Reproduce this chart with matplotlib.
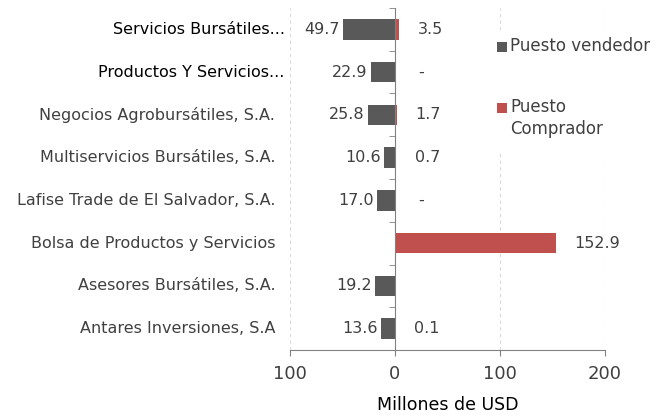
import matplotlib
matplotlib.use("Agg")
import matplotlib.pyplot as plt
import numpy as np
from matplotlib.ticker import FuncFormatter
from matplotlib.patches import Rectangle

categories = [
    "Servicios Bursátiles...",
    "Productos Y Servicios...",
    "Negocios Agrobursátiles, S.A.",
    "Multiservicios Bursátiles, S.A.",
    "Lafise Trade de El Salvador, S.A.",
    "Bolsa de Productos y Servicios",
    "Asesores Bursátiles, S.A.",
    "Antares Inversiones, S.A",
]
vendedor = [49.7, 22.9, 25.8, 10.6, 17.0, None, 19.2, 13.6]
comprador = [3.5, None, 1.7, 0.7, None, 152.9, None, 0.1]
comprador_text = ["3.5", "-", "1.7", "0.7", "-", "152.9", "", "0.1"]
x_ticks = [-100, 0, 100, 200]
series_names = ["Puesto vendedor", "Puesto\nComprador"]

plt.rcParams['font.family'] = ['DejaVu Sans']

W, H = 657, 415
fig = plt.figure(figsize=(W / 100, H / 100), dpi=100)
ax = fig.add_axes([290 / W, 1 - 350 / H, (605 - 290) / W, (350 - 8) / H])

n = len(categories)
y = np.arange(n)
gray = "#595959"
red = "#C0504D"
txt = "#404040"

v = np.array([0 if a is None else a for a in vendedor], dtype=float)
c = np.array([0 if a is None else a for a in comprador], dtype=float)

ax.barh(y, -v, height=0.48, color=gray, zorder=3)
ax.barh(y, c, height=0.48, color=red, zorder=3)

for i in range(n):
    if vendedor[i] is not None:
        ax.text(-v[i] - 3, y[i], f"{vendedor[i]:.1f}", ha="right", va="center",
                fontsize=11.5, color=txt)
    if comprador_text[i]:
        ax.text(c[i] + 18 if c[i] > 0 else 22, y[i], comprador_text[i], ha="left",
                va="center", fontsize=11.5, color=txt)

ax.set_xlim(-100, 200)
ax.set_ylim(n - 0.5, -0.5)
ax.set_xticks(x_ticks)
ax.xaxis.set_major_formatter(FuncFormatter(lambda val, p: f"{abs(val):.0f}"))
ax.tick_params(axis="x", colors="#808080", labelcolor=txt, labelsize=13, length=4, pad=7)
ax.set_yticks([])
ax.set_yticks(np.arange(n + 1) - 0.5, minor=True)
ax.tick_params(axis="y", which="minor", length=4, color="#808080")

for i, lab in enumerate(categories):
    trunc = lab.endswith("...")
    ax.text(-105 if trunc else -114, y[i], lab, ha="right", va="center",
            fontsize=11.5, color="black" if trunc else txt, clip_on=False)

for s in ["top", "right"]:
    ax.spines[s].set_visible(False)
ax.spines["left"].set_position(("data", 0))
ax.spines["left"].set_color("#808080")
ax.spines["left"].set_zorder(4)
ax.spines["bottom"].set_color("#808080")
for xv in [-100, 100, 200]:
    ax.axvline(xv, color="#d9d9d9", lw=0.8, ls=(0, (3, 3)), zorder=1)

ax.set_xlabel("Millones de USD", fontsize=12.5, color="black", labelpad=9)

# legend (drawn manually to place the two-line entry like the reference)
fig.add_artist(Rectangle((492 / W, 1 - 152 / H), 165 / W, 122 / H,
                         transform=fig.transFigure, facecolor="white",
                         edgecolor="none", zorder=2))
leg_y = [47, 108]
for name, col, yy in zip(series_names, [gray, red], leg_y):
    fig.add_artist(Rectangle((497 / W, 1 - (yy + 5) / H), 10 / W, 10 / H,
                             transform=fig.transFigure, facecolor=col,
                             edgecolor="none", zorder=3))
    fig.text(510 / W, 1 - (yy - 10) / H, name, ha="left", va="top", fontsize=12,
             color=txt, linespacing=1.3, zorder=3)

fig.savefig("out.png", dpi=100)
